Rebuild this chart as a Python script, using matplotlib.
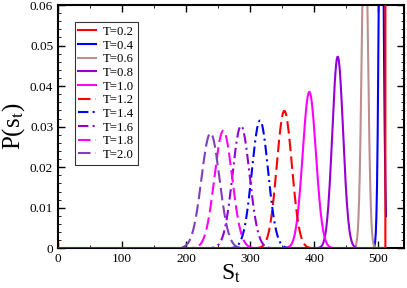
import numpy as np
import matplotlib
matplotlib.use('Agg')
import matplotlib.pyplot as plt

plt.rcParams['font.family'] = ['Liberation Serif', 'DejaVu Serif']
plt.rcParams['mathtext.fontset'] = 'stix'

# peak position and peak height of each distribution
temps = ['T=0.2', 'T=0.4', 'T=0.6', 'T=0.8', 'T=1.0',
         'T=1.2', 'T=1.4', 'T=1.6', 'T=1.8', 'T=2.0']
centers = [512, 504.5, 479, 436.6, 392.3, 353.3, 315.3, 285.7, 258, 238]
heights = [1.0, 0.125, 0.0887, 0.0473, 0.0386, 0.0339, 0.0315, 0.0302, 0.029, 0.0284]
colors = ['red', 'blue', '#bc8f8f', '#9400d3', 'magenta',
          'red', 'blue', '#9400d3', 'magenta', '#7f3fbf']
styles = ['-', '-', '-', '-', '-',
          (0, (6, 2.5)), (0, (5, 2, 1, 2)), (0, (5, 2, 1, 2)), (0, (6, 2.5)), (0, (6, 2.5))]
s_max = 512   # largest possible s_t

s = np.arange(0, s_max + 1)

fig = plt.figure(figsize=(4.07, 2.88), dpi=100)
ax = fig.add_axes([0.1425, 0.138, 0.85, 0.8445])

for lab, c0, h, col, ls in zip(temps, centers, heights, colors, styles):
    if lab == 'T=0.2':
        p = np.where(s == s_max, h, 0.0)
        z = 5
    else:
        sig = 1.0 / (np.sqrt(2 * np.pi) * h)
        p = h * np.exp(-(s - c0) ** 2 / (2 * sig ** 2))
        z = 2
    ax.plot(s, p, color=col, ls=ls, lw=1.5, label=lab, zorder=z)

ax.set_xlim(0, 540)
ax.set_ylim(0, 0.06)
ax.set_xticks(np.arange(0, 501, 100))
ax.set_xticks(np.arange(0, 540, 50), minor=True)
ax.set_yticks(np.arange(0, 0.061, 0.01))
ax.set_yticks(np.arange(0, 0.061, 0.002), minor=True)
ax.set_yticklabels(['0', '0.01', '0.02', '0.03', '0.04', '0.05', '0.06'])
ax.tick_params(which='both', direction='in', top=True, right=True, labelsize=9.5)
ax.tick_params(which='major', length=5, width=1)
ax.tick_params(which='minor', length=2.5)
for sp in ax.spines.values():
    sp.set_linewidth(1.5)

ax.set_xlabel('S$_{\\rm t}$', fontsize=17, labelpad=-2)
ax.set_ylabel('P(s$_{\\rm t}$)', fontsize=18, labelpad=2)

leg = ax.legend(loc='upper left', bbox_to_anchor=(0.048, 0.93), fontsize=9.2,
                frameon=True, fancybox=False, edgecolor='black',
                handlelength=1.4, labelspacing=0.13, borderpad=0.3,
                handletextpad=0.5, borderaxespad=0)
leg.get_frame().set_linewidth(0.8)

plt.savefig('out.png', dpi=100)
plt.close()
